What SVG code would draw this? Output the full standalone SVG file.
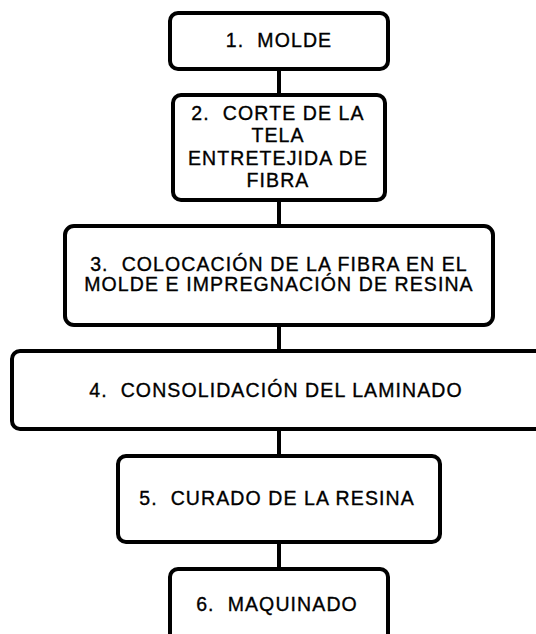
<svg xmlns="http://www.w3.org/2000/svg" width="536" height="634" viewBox="0 0 536 634">
<style>
.box{fill:#fff;stroke:#000;stroke-width:4}
.lbl{font-family:"Liberation Sans",Arial,sans-serif;font-size:19.5px;letter-spacing:1.1px;fill:#000;stroke:#000;stroke-width:0.35;text-anchor:middle}
.con{stroke:#000;stroke-width:4;fill:none}
</style>
<rect width="536" height="634" fill="#fff"/>
<g id="connectors">
<line class="con" x1="279" y1="69" x2="279" y2="95"/>
<line class="con" x1="279" y1="200" x2="279" y2="226"/>
<line class="con" x1="279" y1="325" x2="279" y2="351"/>
<line class="con" x1="279" y1="429" x2="279" y2="456"/>
<line class="con" x1="279" y1="542" x2="279" y2="569"/>
</g>
<g id="node1">
<rect class="box" x="170" y="13" width="218" height="56" rx="8"/>
<text class="lbl" x="279" y="47" xml:space="preserve">1.  MOLDE</text>
</g>
<g id="node2">
<rect class="box" x="173" y="95" width="212" height="105" rx="8"/>
<text class="lbl" x="278" y="120" xml:space="preserve">2.  CORTE DE LA</text>
<text class="lbl" x="278" y="142">TELA</text>
<text class="lbl" x="278" y="165">ENTRETEJIDA DE</text>
<text class="lbl" x="278" y="187">FIBRA</text>
</g>
<g id="node3">
<rect class="box" x="65" y="226" width="428" height="99" rx="9"/>
<text class="lbl" x="279" y="271" xml:space="preserve">3.  COLOCACIÓN DE LA FIBRA EN EL</text>
<text class="lbl" x="279" y="291">MOLDE E IMPREGNACIÓN DE RESINA</text>
</g>
<g id="node4">
<rect class="box" x="12" y="351" width="540" height="78" rx="8"/>
<text class="lbl" x="276" y="397" xml:space="preserve">4.  CONSOLIDACIÓN DEL LAMINADO</text>
</g>
<g id="node5">
<rect class="box" x="118" y="456" width="322" height="86" rx="8"/>
<text class="lbl" x="277" y="505" xml:space="preserve">5.  CURADO DE LA RESINA</text>
</g>
<g id="node6">
<rect class="box" x="170" y="569" width="218" height="100" rx="8"/>
<text class="lbl" x="277" y="611" xml:space="preserve">6.  MAQUINADO</text>
</g>
</svg>
